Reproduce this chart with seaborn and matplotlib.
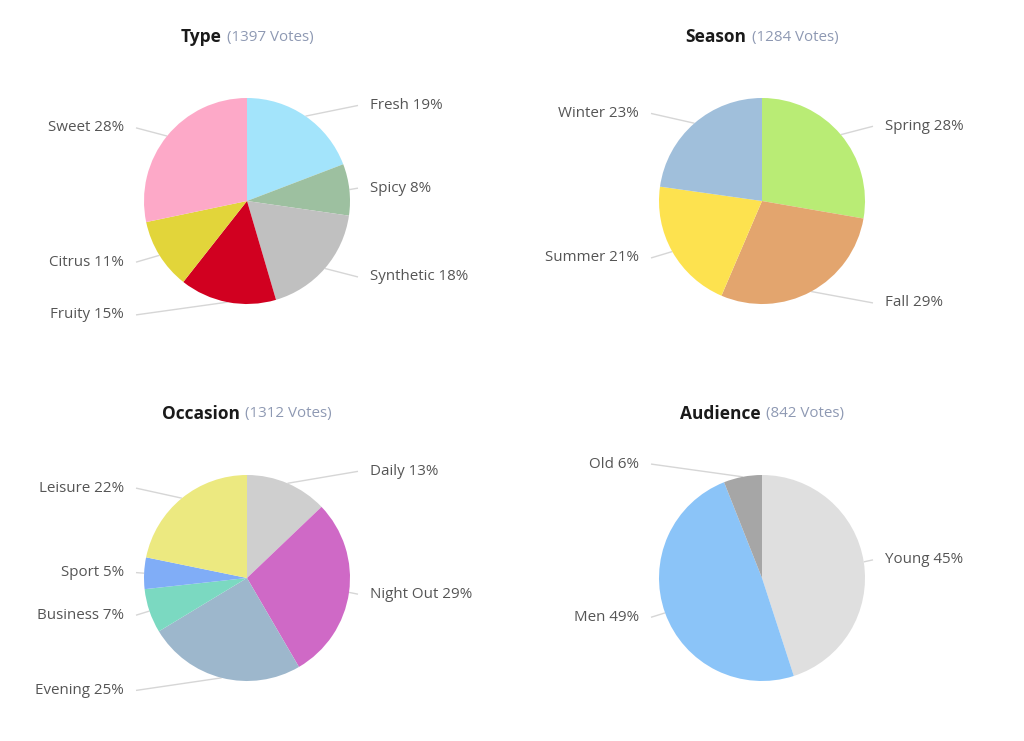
import numpy as np
import matplotlib
matplotlib.use("Agg")
import matplotlib.pyplot as plt
import seaborn as sns

# ---------------- data ----------------
type_labels = ["Fresh", "Spicy", "Synthetic", "Fruity", "Citrus", "Sweet"]
type_values = [19, 8, 18, 15, 11, 28]
type_votes = 1397

season_labels = ["Spring", "Fall", "Summer", "Winter"]
season_values = [28, 29, 21, 23]
season_votes = 1284

occasion_labels = ["Daily", "Night Out", "Evening", "Business", "Sport", "Leisure"]
occasion_values = [13, 29, 25, 7, 5, 22]
occasion_votes = 1312

audience_labels = ["Young", "Men", "Old"]
audience_values = [45, 49, 6]
audience_votes = 842

# ---------------- styles ----------------
type_colors = ["#a3e4fb", "#9dc0a0", "#c0c0c0", "#d10020", "#e2d53a", "#fda9c8"]
season_colors = ["#b9ec75", "#e3a56e", "#fde24f", "#a0bfdb"]
occasion_colors = ["#cfcfcf", "#cf69c6", "#9db7cc", "#7bd9c1", "#80adf7", "#ece980"]
audience_colors = ["#dfdfdf", "#8bc4f8", "#a6a6a6"]

W, H = 1024, 741
R = 103          # pie radius (px)
LR = 116         # label radius used for vertical label placement
sns.set_theme(style="white")
plt.rcParams["font.family"] = ["Open Sans", "DejaVu Sans"]

fig = plt.figure(figsize=(W / 100, H / 100), dpi=100)
ax = fig.add_axes([0, 0, 1, 1])

panels = [
    ("Type", type_votes, type_labels, type_values, type_colors, 247, 201),
    ("Season", season_votes, season_labels, season_values, season_colors, 762, 201),
    ("Occasion", occasion_votes, occasion_labels, occasion_values, occasion_colors, 247, 578),
    ("Audience", audience_votes, audience_labels, audience_values, audience_colors, 762, 578),
]

title_items = []
for title, votes, labels, values, colors, cx, cy in panels:
    ax.pie(values, colors=colors, startangle=90, counterclock=False,
           center=(cx, H - cy), radius=R,
           wedgeprops=dict(linewidth=0, antialiased=True))
    fr = np.array(values, dtype=float) / np.sum(values)
    mid = 2 * np.pi * (np.cumsum(fr) - fr / 2)
    for lab, v, th in zip(labels, values, mid):
        ex = cx + R * np.sin(th)
        ey = cy - R * np.cos(th)
        ly = cy - LR * np.cos(th)
        if np.sin(th) > 0:
            lx, tx, ha = cx + 111, cx + 123, "left"
        else:
            lx, tx, ha = cx - 111, cx - 123, "right"
        ax.plot([lx, ex], [H - ly, H - ey], color="#d6d6d6", lw=1, zorder=0.5,
                solid_capstyle="butt")
        ax.text(tx, H - ly, f"{lab} {v}%", ha=ha, va="center",
                fontsize=10.9, color="#555555")
    t1 = ax.text(0, H - 36, title, ha="left", va="center", fontsize=12.5,
                 fontweight="bold", color="#1a1a1a")
    t2 = ax.text(0, H - 36, f"({votes} Votes)", ha="left", va="center",
                 fontsize=10.9, color="#8e99b3")
    title_items.append((t1, t2, cx, cy))

ax.set_xlim(0, W)
ax.set_ylim(0, H)
ax.set_aspect("equal")
ax.axis("off")

# center composite titles over each pie
fig.canvas.draw()
rend = fig.canvas.get_renderer()
for t1, t2, cx, cy in title_items:
    w1 = t1.get_window_extent(rend).width
    w2 = t2.get_window_extent(rend).width
    gap = 5
    total = w1 + gap + w2
    x0 = cx - total / 2
    ty = H - (cy - 164)
    t1.set_position((x0, ty))
    t2.set_position((x0 + w1 + gap, ty))

fig.savefig("out.png", dpi=100, facecolor="white")
